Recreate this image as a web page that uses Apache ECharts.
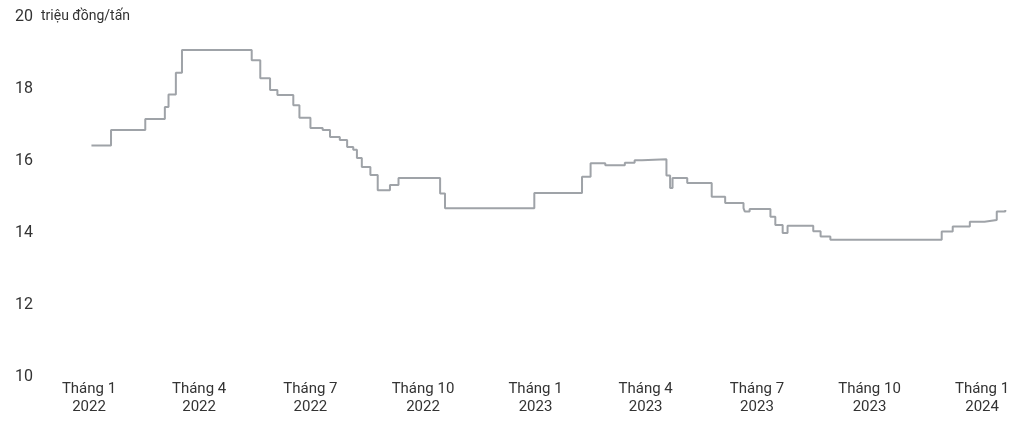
<!DOCTYPE html>
<html>
<head>
<meta charset="utf-8">
<script src="https://cdn.jsdelivr.net/npm/echarts@6/dist/echarts.min.js"></script>
<style>
  html, body { margin: 0; padding: 0; background: #ffffff; }
  #chart { width: 1034px; height: 448px; }
</style>
</head>
<body>
<div id="chart"></div>
<script>
// ---- Data ----
const dates = [
  '2022-01-03','2022-01-19','2022-02-16','2022-03-04','2022-03-07','2022-03-13','2022-03-18',
  '2022-05-14','2022-05-21','2022-05-29','2022-06-04','2022-06-17','2022-06-22','2022-07-01',
  '2022-07-11','2022-07-17','2022-07-25','2022-07-31','2022-08-05','2022-08-08','2022-08-12',
  '2022-08-19','2022-08-25','2022-09-04','2022-09-11','2022-10-15','2022-10-19','2022-12-31',
  '2023-02-08','2023-02-15','2023-02-27','2023-03-15','2023-03-23','2023-03-29','2023-04-18',
  '2023-04-21','2023-04-23','2023-05-05','2023-05-25','2023-06-05','2023-06-20','2023-06-21',
  '2023-06-25','2023-07-12','2023-07-16','2023-07-22','2023-07-26','2023-08-16','2023-08-22',
  '2023-08-30','2023-09-05','2023-11-29','2023-12-08','2023-12-22','2024-01-03','2024-01-13',
  '2024-01-20'
];
const prices = [
  16.43, 16.86, 17.17, 17.50, 17.85, 18.45, 19.08,
  18.80, 18.30, 17.97, 17.83, 17.55, 17.20, 16.92,
  16.86, 16.67, 16.58, 16.39, 16.31, 16.08, 15.83,
  15.61, 15.19, 15.33, 15.53, 15.10, 14.69, 15.11,
  15.56, 15.94, 15.88, 15.95, 16.02, 16.05, 15.60,
  15.25, 15.53, 15.39, 15.01, 14.83, 14.69, 14.60,
  14.67, 14.45, 14.22, 14.00, 14.20, 14.05, 13.90,
  13.81, 13.81, 14.04, 14.18, 14.31, 14.36, 14.60,
  14.64
];
const tickDates = ['2022-01-01','2022-04-01','2022-07-01','2022-10-01','2023-01-01',
                   '2023-04-01','2023-07-01','2023-10-01','2024-01-01'];
const tickLabels = ['Tháng 1\n2022','Tháng 4\n2022','Tháng 7\n2022','Tháng 10\n2022','Tháng 1\n2023',
                    'Tháng 4\n2023','Tháng 7\n2023','Tháng 10\n2023','Tháng 1\n2024'];
const yTicks = [10, 12, 14, 16, 18, 20];
const unitLabel = 'triệu đồng/tấn';
const axisStart = '2022-01-01';
const axisEnd = '2024-02-01';

// ---- Chart ----
function toTime(s) {
  const p = s.split('-').map(Number);
  return Date.UTC(p[0], p[1] - 1, p[2]);
}
const tickTimes = tickDates.map(toTime);
const seriesData = dates.map((d, i) => [toTime(d), prices[i]]);

const chart = echarts.init(document.getElementById('chart'), null, { renderer: 'canvas' });
const FONT = 'Roboto, "Noto Sans", sans-serif';

chart.setOption({
  backgroundColor: '#ffffff',
  animation: false,
  grid: { left: 89, right: 14, top: 17, bottom: 71, containLabel: false },
  xAxis: {
    type: 'value',
    min: toTime(axisStart),
    max: toTime(axisEnd),
    axisLine: { show: false },
    axisTick: { show: false },
    splitLine: { show: false },
    axisLabel: {
      customValues: tickTimes,
      showMinLabel: true,
      showMaxLabel: true,
      hideOverlap: false,
      margin: 3,
      color: '#333333',
      fontFamily: FONT,
      fontSize: 15,
      lineHeight: 18,
      align: 'center',
      formatter: function (v) {
        const i = tickTimes.findIndex(t => Math.abs(t - v) < 3 * 3600 * 1000);
        return i >= 0 ? tickLabels[i] : '';
      }
    }
  },
  yAxis: {
    type: 'value',
    min: yTicks[0],
    max: yTicks[yTicks.length - 1],
    interval: 2,
    axisLine: { show: false },
    axisTick: { show: false },
    splitLine: { show: false },
    axisLabel: {
      margin: 56,
      color: '#333333',
      fontFamily: FONT,
      fontSize: 16
    }
  },
  graphic: [{
    type: 'text',
    left: 41,
    top: 9,
    style: {
      text: unitLabel,
      fill: '#333333',
      font: '14px Roboto, "Noto Sans", sans-serif'
    }
  }],
  series: [{
    type: 'line',
    step: 'end',
    data: seriesData,
    showSymbol: false,
    lineStyle: { color: '#9fa3a8', width: 2 }
  }]
});
</script>
</body>
</html>
